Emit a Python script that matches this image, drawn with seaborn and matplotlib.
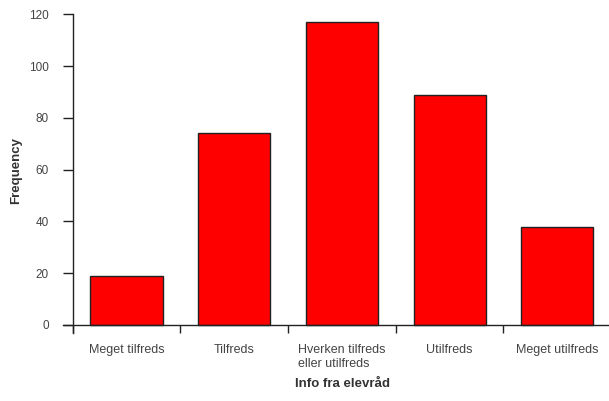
import matplotlib
matplotlib.use("Agg")
import matplotlib.pyplot as plt
import seaborn as sns
import pandas as pd
import numpy as np

categories = ["Meget tilfreds", "Tilfreds", "Hverken tilfreds\neller utilfreds", "Utilfreds", "Meget utilfreds"]
frequencies = [19, 74, 117, 89, 38]
y_ticks = [0, 20, 40, 60, 80, 100, 120]

sns.set_style("white")
plt.rcParams['font.family'] = ['Liberation Sans', 'DejaVu Sans']

df = pd.DataFrame({"cat": categories, "freq": frequencies})

fig = plt.figure(figsize=(6.09, 4.01), dpi=100)
ax = fig.add_axes([63/609, 68/401, 546/609, 318.7/401])

sns.barplot(data=df, x="cat", y="freq", color="#ff0000", saturation=1,
            edgecolor="#222222", linewidth=1.0, width=0.67, ax=ax)

ax.set_xlim(-0.59, 4.48)
ax.set_ylim(-3.1, 120)

for s in ["top", "right"]:
    ax.spines[s].set_visible(False)
ax.spines["left"].set_position(("data", -0.5))
ax.spines["bottom"].set_position(("data", 0))
for s in ["left", "bottom"]:
    ax.spines[s].set_color("#222222")
    ax.spines[s].set_linewidth(1.0)
ax.spines["left"].set_bounds(-3.1, 120)

ax.set_yticks(y_ticks)
ax.tick_params(axis="y", direction="out", length=7.2, width=1.0, color="#222222",
               pad=10, labelsize=8.5, labelcolor="#444444", left=True)

ax.set_xticks(range(len(categories)))
ax.set_xticklabels(categories, multialignment="left")
ax.tick_params(axis="x", which="major", length=0, pad=14, labelsize=9, labelcolor="#444444")
ax.set_xticks(np.arange(-0.5, 4.0, 1.0), minor=True)
ax.tick_params(axis="x", which="minor", direction="out", length=6, width=1.0,
               color="#222222", bottom=True)
for lbl in ax.get_xticklabels():
    lbl.set_verticalalignment("top")

ax.set_xlabel("Info fra elevråd", fontsize=9.5, fontweight="bold", color="#333333")
ax.xaxis.set_label_coords(0.511, -0.16)
ax.xaxis.label.set_va("center")
ax.set_ylabel("Frequency", fontsize=9.5, fontweight="bold", color="#333333")
ax.yaxis.set_label_coords(-0.086, 0.511)
ax.yaxis.label.set_va("center")

fig.savefig("out.png", dpi=100)
